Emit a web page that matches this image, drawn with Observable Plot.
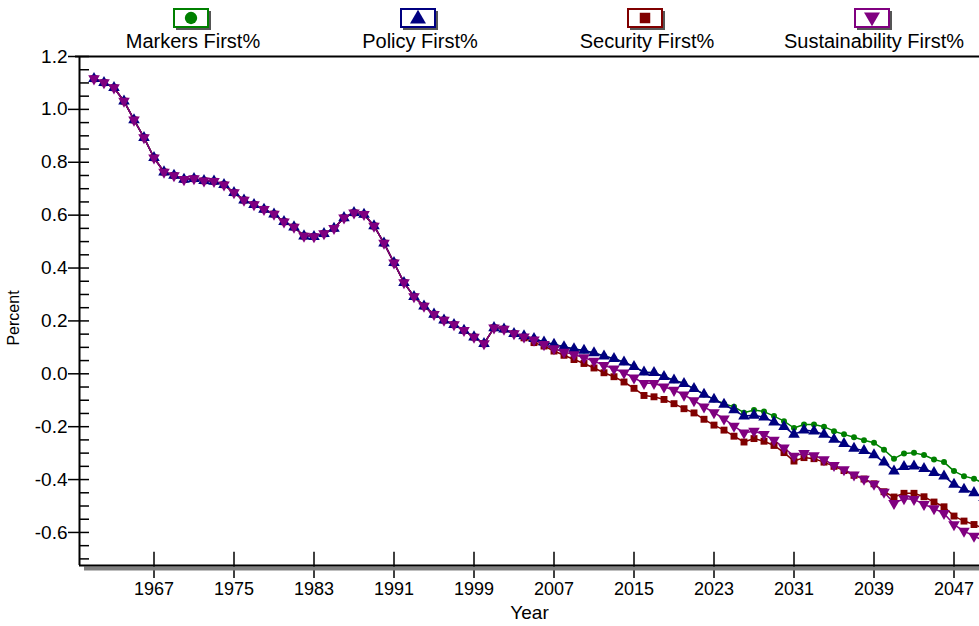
<!DOCTYPE html>
<html>
<head>
<meta charset="utf-8">
<script src="https://cdn.jsdelivr.net/npm/d3@7"></script>
<script src="https://cdn.jsdelivr.net/npm/@observablehq/plot@0.6"></script>
<style>
  body { margin: 0; background: white; font-family: Arial, "Liberation Sans", sans-serif; }
  #legend { position: relative; width: 979px; height: 48px; }
  .item { position: absolute; top: 0; width: 220px; margin-left: -110px; text-align: center; }
  .item svg { position: absolute; left: 90px; top: 8px; overflow: visible; }
  .item span { position: absolute; left: 0; width: 220px; top: 31px; font-size: 20px; line-height: 20px; }
</style>
</head>
<body>
<div id="legend"></div>
<div id="chart"></div>
<script>
// years 1961-2050, all four scenarios share the history up to 2003
const years = d3.range(1961, 2051);

const history = [
  1.116, 1.101, 1.082, 1.031, 0.960, 0.893, 0.817, 0.763, 0.750, 0.735,
  0.738, 0.730, 0.728, 0.715, 0.685, 0.657, 0.640, 0.622, 0.604, 0.575,
  0.555, 0.521, 0.519, 0.530, 0.550, 0.590, 0.609, 0.603, 0.559, 0.494,
  0.420, 0.345, 0.292, 0.256, 0.225, 0.203, 0.186, 0.164, 0.139, 0.114,
  0.174, 0.169, 0.152
];

// 2004-2050
const marketsFirst = [
  0.143, 0.133, 0.120, 0.111, 0.102, 0.094, 0.088, 0.079, 0.067, 0.057,
  0.044, 0.027, 0.006, 0.004, -0.011, -0.024, -0.037, -0.056, -0.078, -0.097,
  -0.113, -0.125, -0.147, -0.137, -0.143, -0.160, -0.179, -0.205, -0.192, -0.192,
  -0.200, -0.217, -0.229, -0.240, -0.251, -0.261, -0.287, -0.321, -0.301, -0.299,
  -0.307, -0.324, -0.334, -0.368, -0.387, -0.397, -0.415
];
const policyFirst = [
  0.143, 0.133, 0.120, 0.111, 0.102, 0.094, 0.088, 0.079, 0.067, 0.057,
  0.044, 0.027, 0.006, 0.004, -0.011, -0.024, -0.037, -0.056, -0.078, -0.097,
  -0.116, -0.137, -0.160, -0.157, -0.164, -0.183, -0.200, -0.229, -0.213, -0.217,
  -0.229, -0.248, -0.264, -0.282, -0.291, -0.307, -0.334, -0.368, -0.351, -0.349,
  -0.359, -0.374, -0.387, -0.418, -0.437, -0.450, -0.468
];
const securityFirst = [
  0.136, 0.118, 0.105, 0.086, 0.070, 0.054, 0.039, 0.022, 0.004, -0.011,
  -0.031, -0.055, -0.082, -0.087, -0.097, -0.113, -0.132, -0.148, -0.172, -0.194,
  -0.213, -0.236, -0.258, -0.245, -0.255, -0.271, -0.298, -0.330, -0.317, -0.321,
  -0.334, -0.350, -0.366, -0.384, -0.398, -0.416, -0.446, -0.466, -0.452, -0.452,
  -0.465, -0.485, -0.503, -0.538, -0.557, -0.570, -0.585
];
const sustainabilityFirst = [
  0.140, 0.128, 0.111, 0.095, 0.082, 0.073, 0.061, 0.048, 0.032, 0.019,
  0.004, -0.015, -0.036, -0.036, -0.049, -0.062, -0.080, -0.101, -0.125, -0.147,
  -0.170, -0.198, -0.223, -0.217, -0.229, -0.251, -0.280, -0.311, -0.301, -0.309,
  -0.324, -0.346, -0.362, -0.382, -0.398, -0.417, -0.447, -0.490, -0.472, -0.475,
  -0.494, -0.510, -0.528, -0.570, -0.595, -0.614, -0.632
];

const xTicks = [1967, 1975, 1983, 1991, 1999, 2007, 2015, 2023, 2031, 2039, 2047];
const yTicks = [-0.6, -0.4, -0.2, 0, 0.2, 0.4, 0.6, 0.8, 1.0, 1.2];
const yMinor = d3.range(-14, 25).map(i => i * 0.05);

const series = [
  {name: "Markers First%", color: "#008000", symbol: "circle", r: 3, values: marketsFirst},
  {name: "Policy First%", color: "#000080", symbol: "triangle", r: 4.3, values: policyFirst},
  {name: "Security First%", color: "#800000", symbol: "square", r: 3.9, values: securityFirst},
  {name: "Sustainability First%", color: "#800080", symbol: "triangle", r: 4.3, rotate: 180, values: sustainabilityFirst}
];

const xMin = 1959.55, xMax = 2049.55;
const yMin = -0.725, yMax = 1.2;

// legend
const legend = d3.select("#legend");
const symbols = {circle: d3.symbolCircle, triangle: d3.symbolTriangle, square: d3.symbolSquare};
series.forEach((s, i) => {
  const item = legend.append("div").attr("class", "item").style("left", (193 + i * 227) + "px");
  const svg = item.append("svg").attr("width", 38).attr("height", 22);
  svg.append("rect").attr("x", 3).attr("y", 3).attr("width", 35).attr("height", 19).attr("fill", "#555");
  svg.append("rect").attr("x", 1).attr("y", 1).attr("width", 34).attr("height", 18)
    .attr("fill", "white").attr("stroke", s.color).attr("stroke-width", 2);
  svg.append("path")
    .attr("d", d3.symbol(symbols[s.symbol], s.symbol === "circle" ? 120 : 110)())
    .attr("transform", `translate(18,${s.symbol === "triangle" ? (s.rotate ? 9 : 11) : 10}) rotate(${s.rotate || 0})`)
    .attr("fill", s.color);
  item.append("span").text(s.name);
});

const rows = series.flatMap(s =>
  history.concat(s.values).map((v, i) => ({year: years[i], value: v, name: s.name}))
);

const lineMarks = series.map(s =>
  Plot.line(rows.filter(d => d.name === s.name), {x: "year", y: "value", stroke: s.color, strokeWidth: 1.5, clip: true})
);
const dotMarks = [0, 2, 1, 3].map(k => {
  const s = series[k];
  return Plot.dot(rows.filter(d => d.name === s.name), {
    x: "year", y: "value", symbol: s.symbol, r: s.r, fill: s.color, rotate: s.rotate || 0, clip: true
  });
});

const chart = Plot.plot({
  width: 979,
  height: 578,
  marginTop: 8,
  marginBottom: 61,
  marginLeft: 79,
  marginRight: 0,
  style: {fontFamily: "Arial, 'Liberation Sans', sans-serif", fontSize: "18px", overflow: "visible", background: "white", color: "black"},
  x: {domain: [xMin, xMax]},
  y: {domain: [yMin, yMax]},
  marks: [
    ...lineMarks,
    ...dotMarks,
    Plot.ruleY(yMinor, {x1: xMin, x2: xMin + 1.0, stroke: "black", strokeWidth: 1.5}),
    Plot.ruleX(xTicks, {y1: yMin, y2: yMin + 0.05, stroke: "black", strokeWidth: 1.5}),
    Plot.axisY(yTicks, {tickSize: 11, tickPadding: 1, fontSize: 19, tickFormat: d => d.toFixed(1), label: null, strokeWidth: 1.5}),
    Plot.axisX(xTicks, {tickSize: 13, tickPadding: 4, fontSize: 18, tickFormat: d => String(d), label: null, strokeWidth: 1.5}),
    Plot.ruleY([yMin], {x1: xMin + 0.5, x2: xMax, dy: 3, stroke: "#808080", strokeWidth: 4}),
    Plot.ruleY([yMin], {stroke: "black", strokeWidth: 2}),
    Plot.ruleY([yMax], {x1: xMin - 0.4, x2: xMax, stroke: "black", strokeWidth: 2}),
    Plot.ruleX([xMin], {stroke: "black", strokeWidth: 2}),
    Plot.text(["Year"], {frameAnchor: "bottom", dy: 47, lineAnchor: "middle", fontSize: 19, text: d => d}),
    Plot.text(["Percent"], {frameAnchor: "left", dx: -66, dy: 7, rotate: -90, textAnchor: "middle", fontSize: 16, text: d => d})
  ]
});

d3.select("#chart").append(() => chart);
</script>
</body>
</html>
